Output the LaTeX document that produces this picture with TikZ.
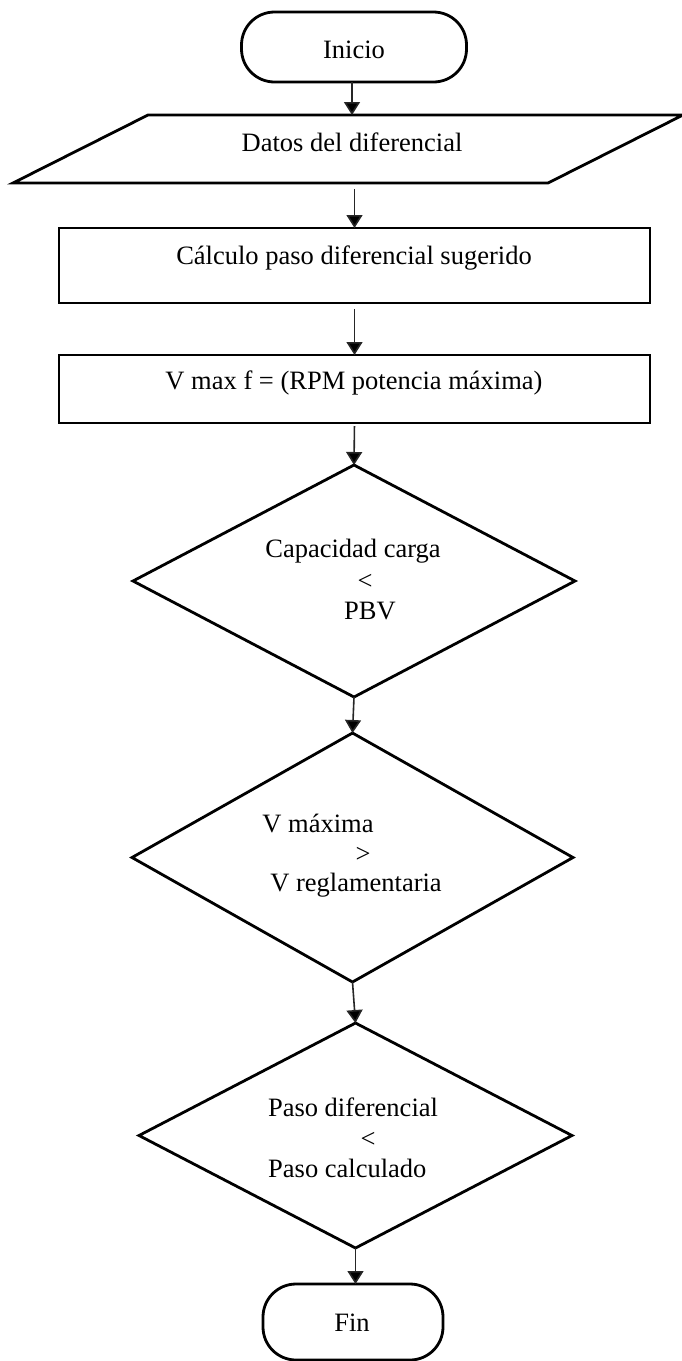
\documentclass[tikz,border=0pt]{standalone}
\usepackage{fontspec}
\setmainfont{Liberation Serif}
\usetikzlibrary{shapes.geometric,arrows.meta}
\begin{document}
\begin{tikzpicture}[x=1pt,y=-1pt,
  shapeline/.style={draw=black,line width=2.8pt,inner sep=0pt,outer sep=0pt},
  term/.style={shapeline,rectangle,rounded corners=33pt},
  proc/.style={shapeline,rectangle},
  dec/.style={shapeline,diamond},
  iobox/.style={rectangle,inner sep=0pt,outer sep=0pt},
  lbl/.style={inner sep=0pt,font=\fontsize{26.5}{30}\selectfont},
  flow/.style={draw=black!85,line width=1.6pt,-{Triangle[length=13pt,width=16pt,fill=black]}}
]
\useasboundingbox (0,0) rectangle (681,1361);

% shapes
\node[term, minimum width=225pt, minimum height=70pt] (inicio) at (354,47) {};
\node[iobox, minimum width=535pt, minimum height=68pt] (datos) at (348,149) {};
\draw[line width=2.8pt, line join=miter]
  ([xshift=-67.5pt]datos.south west) -- ([xshift=-67.5pt]datos.south east)
  -- ([xshift=67.5pt]datos.north east) -- ([xshift=67.5pt]datos.north west) -- cycle;
\node[proc, minimum width=591pt, minimum height=75pt] (c1) at (354.5,265.5) {};
\node[proc, minimum width=591pt, minimum height=68pt] (c2) at (354.5,389) {};
\node[dec, minimum width=442pt, minimum height=232pt] (d1) at (354,581) {};
\node[dec, minimum width=441pt, minimum height=249pt] (d2) at (352.5,857.5) {};
\node[dec, minimum width=433pt, minimum height=225pt] (d3) at (355.5,1135.5) {};
\node[term, minimum width=180pt, minimum height=76pt] (fin) at (353,1322) {};

% texts
\node[lbl] (tinicio) at (354,50) {Inicio};
\node[lbl] (tdatos) at (352,142) {Datos del diferencial};
\node[lbl] (tc1) at (354,258) {Cálculo paso diferencial sugerido};
\node[lbl] (tc2) at (354,383) {V max f = (RPM potencia máxima)};
\node[lbl] (td1a) at (353,551) {Capacidad carga};
\node[lbl] (td1b) at (365,582) {<};
\node[lbl] (td1c) at (370,611) {PBV};
\node[lbl] (td2a) at (318,823) {V máxima};
\node[lbl] (td2b) at (363,855) {>};
\node[lbl] (td2c) at (356,885) {V reglamentaria};
\node[lbl] (td3a) at (353,1107) {Paso diferencial};
\node[lbl] (td3b) at (368,1140) {<};
\node[lbl, anchor=west] (td3c) at (268,1168) {Paso calculado};
\node[lbl] (tfin) at (352,1323) {Fin};

% connectors
\draw[flow] (inicio.south -| tdatos) -- (tdatos |- datos.north);
\draw[flow, shorten <=6pt] (c1.north |- datos.south) -- (c1.north);
\draw[flow, shorten <=6pt] (c2.north |- c1.south) -- (c2.north);
\draw[flow, shorten <=3pt] (c2.south) -- (d1.north);
\draw[flow] (d1.south) -- (d2.north);
\draw[flow] (d2.south) -- (d3.north);
\draw[flow] (d3.south) -- (d3.south |- fin.north);
\end{tikzpicture}
\end{document}
